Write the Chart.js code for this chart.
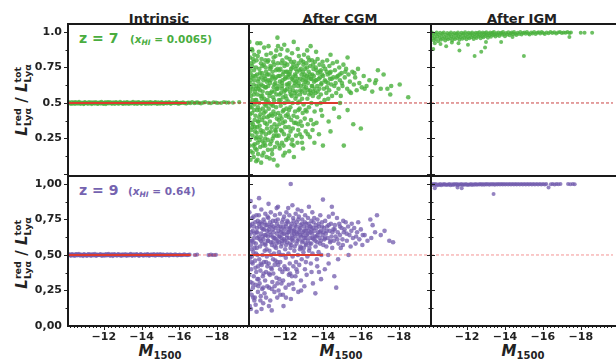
<!DOCTYPE html>
<html><head><meta charset="utf-8">
<script src="https://cdn.jsdelivr.net/npm/chart.js@4.4.1/dist/chart.umd.min.js"></script>
<style>
html,body{margin:0;padding:0;background:#fff}
body{width:616px;height:362px;position:relative;overflow:hidden;font-family:"DejaVu Sans",sans-serif;color:#222}
.cv{position:absolute}
.txt{position:absolute;white-space:nowrap;line-height:1;font-weight:bold}
.title{font-size:13px;transform:translateX(-50%)}
.z{font-size:14px}
.xhi{font-size:10.5px}
.xhi sub{font-size:7.5px;vertical-align:-2px;font-style:italic}
.ylab{font-size:15px;transform:translate(-50%,-50%) rotate(-90deg)}
.ss{display:inline-block;vertical-align:middle;font-size:9.5px;line-height:9.5px;text-align:left;font-style:normal}
.ss span{display:block}
.xlab{font-size:15px;transform:translateX(-50%)}
.xlab sub{font-size:10px;font-style:normal;vertical-align:-3px}
</style></head>
<body>
<div class="txt title" style="left:159px;top:12px">Intrinsic</div>
<div class="txt title" style="left:340px;top:12px">After CGM</div>
<div class="txt title" style="left:522px;top:12px">After IGM</div>
<div class="txt z" style="left:79px;top:31px;color:#4aad3f">z = 7</div>
<div class="txt xhi" style="left:130px;top:34px;color:#4aad3f">(<i>x</i><sub>HI</sub> = 0.0065)</div>
<div class="txt z" style="left:79px;top:183px;color:#7563b0">z = 9</div>
<div class="txt xhi" style="left:128px;top:186px;color:#7563b0">(<i>x</i><sub>HI</sub> = 0.64)</div>
<div class="txt ylab" style="left:22px;top:100px"><i>L</i><span class="ss"><span>red</span><span>Lyα</span></span> / <i>L</i><span class="ss"><span>tot</span><span>Lyα</span></span></div>
<div class="txt ylab" style="left:22px;top:253px"><i>L</i><span class="ss"><span>red</span><span>Lyα</span></span> / <i>L</i><span class="ss"><span>tot</span><span>Lyα</span></span></div>
<div class="txt xlab" style="left:160px;top:344px"><i>M</i><sub>1500</sub></div>
<div class="txt xlab" style="left:341px;top:344px"><i>M</i><sub>1500</sub></div>
<div class="txt xlab" style="left:523px;top:344px"><i>M</i><sub>1500</sub></div>
<script>
// ---------- axes ----------
const X_MIN = -19.7, X_MAX = -10.1;
const xTickVals = [-12, -14, -16, -18];
const xTickLabels = ['\u221212', '\u221214', '\u221216', '\u221218'];
const yTickValsTop = [0.25, 0.5, 0.75, 1.0];
const yTickLabelsTop = ['0.25', '0.5', '0.75', '1.0'];
const yTickValsBot = [0, 0.25, 0.5, 0.75, 1.0];
const yTickLabelsBot = ['0,00', '0,25', '0,50', '0,75', '1,00'];
const refLevel = 0.5;

// ---------- data: [M1500, L_red/L_tot] ----------
const z7_intrinsic = [[-10.11,0.497],[-10.17,0.505],[-10.26,0.493],[-10.31,0.507],[-10.4,0.501],[-10.47,0.493],[-10.52,0.506],[-10.63,0.495],[-10.69,0.508],[-10.78,0.494],[-10.84,0.503],[-10.93,0.492],[-10.99,0.507],[-11.06,0.498],[-11.15,0.494],[-11.21,0.507],[-11.3,0.5],[-11.36,0.492],[-11.45,0.505],[-11.52,0.495],[-11.58,0.507],[-11.67,0.493],[-11.74,0.503],[-11.83,0.496],[-11.88,0.508],[-11.97,0.493],[-12.05,0.502],[-12.11,0.492],[-12.2,0.506],[-12.27,0.497],[-12.33,0.507],[-12.42,0.494],[-12.49,0.504],[-12.58,0.493],[-12.64,0.507],[-12.71,0.499],[-12.8,0.495],[-12.86,0.508],[-12.95,0.501],[-13.02,0.493],[-13.08,0.505],[-13.17,0.495],[-13.24,0.507],[-13.33,0.493],[-13.39,0.503],[-13.46,0.497],[-13.55,0.508],[-13.61,0.494],[-13.7,0.504],[-13.77,0.493],[-13.83,0.506],[-13.92,0.498],[-13.99,0.494],[-14.08,0.507],[-14.14,0.5],[-14.21,0.493],[-14.3,0.505],[-14.36,0.495],[-14.45,0.507],[-14.52,0.494],[-14.58,0.503],[-14.67,0.497],[-14.74,0.507],[-14.83,0.493],[-14.89,0.504],[-14.98,0.495],[-15.07,0.506],[-15.16,0.494],[-15.27,0.502],[-15.35,0.497],[-15.46,0.506],[-15.55,0.494],[-15.67,0.503],[-15.74,0.498],[-15.86,0.506],[-15.95,0.495],[-16.07,0.501],[-16.2,0.505],[-16.37,0.496],[-16.51,0.503],[-16.68,0.507],[-16.8,0.499],[-16.97,0.504],[-17.15,0.497],[-17.38,0.506],[-17.55,0.501],[-17.82,0.505],[-18.05,0.5],[-18.37,0.507],[-18.62,0.503],[-19.18,0.506],
[-10.14,0.502],[-10.22,0.498],[-10.35,0.496],[-10.44,0.504],[-10.57,0.499],[-10.66,0.502],[-10.74,0.497],[-10.88,0.5],[-10.96,0.496],[-11.02,0.503],[-11.11,0.501],[-11.25,0.497],[-11.33,0.504],[-11.41,0.498],[-11.49,0.501],[-11.62,0.5],[-11.7,0.497],[-11.79,0.502],[-11.92,0.5],[-12.01,0.497],[-12.08,0.504],[-12.16,0.499],[-12.24,0.502],[-12.37,0.5],[-12.45,0.498],[-12.54,0.501],[-12.68,0.503],[-12.76,0.497],[-12.9,0.5],[-12.99,0.497],[-13.05,0.501],[-13.13,0.499],[-13.21,0.502],[-13.29,0.498],[-13.43,0.5],[-13.51,0.503],[-13.65,0.498],[-13.74,0.5],[-13.88,0.503],[-13.96,0.501],[-14.03,0.498],[-14.18,0.503],[-14.26,0.5],[-14.41,0.499],[-14.49,0.502],[-14.62,0.5],[-14.7,0.502],[-14.79,0.499],[-14.94,0.5],[-15.03,0.498],[-15.12,0.5],[-15.22,0.499],[-15.31,0.503],[-15.41,0.5],[-15.51,0.501],[-15.61,0.498],[-15.8,0.501],[-15.9,0.499],[-16.01,0.497],[-16.14,0.5],[-16.28,0.499],[-16.44,0.501],[-16.6,0.498],[-16.89,0.502],[-17.05,0.5],[-17.27,0.502],[-17.68,0.498],[-17.95,0.503],[-18.22,0.5],[-18.5,0.503],[-18.85,0.502]];
const z7_intrinsic_red = [[-10.1,0.5],[-16.4,0.5]];

const z7_cgm = [[-10.12,0.93],[-10.15,0.82],[-10.18,0.71],[-10.13,0.64],[-10.2,0.55],[-10.16,0.47],[-10.11,0.39],[-10.22,0.31],[-10.14,0.24],[-10.19,0.16],[-10.25,0.88],[-10.27,0.76],[-10.24,0.68],[-10.3,0.6],[-10.28,0.52],[-10.26,0.43],[-10.31,0.35],[-10.29,0.27],[-10.33,0.2],[-10.35,0.12],[-10.38,0.84],[-10.36,0.73],[-10.4,0.66],[-10.42,0.58],[-10.39,0.49],[-10.44,0.41],[-10.41,0.33],[-10.46,0.25],[-10.43,0.18],[-10.48,0.09],[-10.5,0.8],[-10.52,0.7],[-10.49,0.62],[-10.55,0.56],[-10.53,0.45],[-10.57,0.37],[-10.51,0.29],[-10.56,0.22],[-10.58,0.14],[-10.54,0.92],[-10.21,0.78],[-10.34,0.63],[-10.47,0.75],[-10.17,0.58],[-10.37,0.45],[-10.45,0.52],[-10.23,0.36],[-10.32,0.69],[-10.59,0.65],[-10.12,0.28],[-10.4,0.21],[-10.28,0.87],[-10.53,0.33],[-10.2,0.66],[-10.46,0.6],[-10.35,0.79],[-10.15,0.42],[-10.57,0.47],[-10.25,0.5],[-10.5,0.17],
[-10.62,0.86],[-10.65,0.74],[-10.61,0.67],[-10.68,0.59],[-10.64,0.5],[-10.7,0.42],[-10.66,0.34],[-10.72,0.26],[-10.69,0.19],[-10.74,0.08],[-10.76,0.81],[-10.78,0.71],[-10.75,0.63],[-10.8,0.55],[-10.83,0.46],[-10.79,0.38],[-10.85,0.3],[-10.81,0.23],[-10.87,0.15],[-10.9,0.89],[-10.88,0.77],[-10.92,0.69],[-10.95,0.61],[-10.91,0.53],[-10.97,0.44],[-10.94,0.36],[-10.99,0.28],[-10.96,0.2],[-11.02,0.84],[-11.0,0.72],[-11.04,0.65],[-11.06,0.57],[-11.01,0.48],[-11.08,0.4],[-11.05,0.32],[-11.09,0.24],[-11.03,0.12],[-10.63,0.62],[-10.73,0.78],[-10.86,0.66],[-10.98,0.75],[-10.67,0.45],[-10.82,0.58],[-10.93,0.49],[-11.07,0.7],[-10.71,0.31],[-10.84,0.2],[-10.77,0.53],[-10.89,0.4],[-11.0,0.61],[-10.6,0.37],[-10.75,0.68],[-10.96,0.8],[-11.08,0.52],[-10.7,0.92],
[-11.12,0.8],[-11.15,0.7],[-11.11,0.62],[-11.18,0.55],[-11.14,0.46],[-11.2,0.37],[-11.16,0.29],[-11.22,0.21],[-11.19,0.11],[-11.25,0.85],[-11.27,0.75],[-11.24,0.66],[-11.3,0.58],[-11.28,0.49],[-11.33,0.41],[-11.29,0.33],[-11.35,0.25],[-11.31,0.17],[-11.38,0.79],[-11.36,0.69],[-11.4,0.61],[-11.42,0.52],[-11.39,0.44],[-11.45,0.35],[-11.41,0.27],[-11.47,0.19],[-11.5,0.83],[-11.52,0.73],[-11.49,0.64],[-11.55,0.56],[-11.53,0.47],[-11.57,0.39],[-11.51,0.3],[-11.58,0.22],[-11.6,0.06],[-11.6,0.96],[-11.13,0.9],[-11.21,0.64],[-11.34,0.72],[-11.46,0.67],[-11.26,0.42],[-11.37,0.54],[-11.56,0.6],[-11.17,0.5],[-11.43,0.77],[-11.32,0.14],[-11.48,0.31],[-11.23,0.76],[-11.54,0.87],[-11.44,0.58],
[-11.62,0.78],[-11.65,0.69],[-11.61,0.6],[-11.68,0.52],[-11.64,0.43],[-11.7,0.35],[-11.66,0.27],[-11.72,0.18],[-11.74,0.84],[-11.76,0.74],[-11.73,0.65],[-11.79,0.57],[-11.77,0.48],[-11.82,0.39],[-11.78,0.31],[-11.84,0.22],[-11.86,0.8],[-11.88,0.7],[-11.85,0.62],[-11.9,0.54],[-11.93,0.45],[-11.89,0.36],[-11.95,0.28],[-11.91,0.13],[-11.97,0.76],[-11.99,0.67],[-12.02,0.59],[-11.98,0.5],[-12.04,0.41],[-12.01,0.33],[-12.06,0.24],[-12.08,0.82],[-12.05,0.72],[-12.09,0.63],[-12.03,0.55],[-11.63,0.9],[-11.81,0.88],[-11.96,0.91],[-11.71,0.56],[-11.87,0.66],[-12.07,0.46],[-11.69,0.73],[-11.83,0.6],[-12.0,0.78],[-11.75,0.41],[-11.92,0.2],
[-12.12,0.77],[-12.15,0.68],[-12.11,0.6],[-12.18,0.51],[-12.14,0.42],[-12.2,0.33],[-12.16,0.25],[-12.22,0.16],[-12.24,0.81],[-12.27,0.72],[-12.23,0.64],[-12.3,0.56],[-12.28,0.47],[-12.33,0.38],[-12.29,0.3],[-12.35,0.21],[-12.37,0.85],[-12.39,0.75],[-12.36,0.67],[-12.42,0.59],[-12.4,0.5],[-12.45,0.41],[-12.41,0.32],[-12.47,0.12],[-12.49,0.79],[-12.52,0.7],[-12.48,0.62],[-12.55,0.53],[-12.53,0.44],[-12.57,0.36],[-12.58,0.27],[-12.13,0.87],[-12.26,0.58],[-12.44,0.66],[-12.56,0.74],[-12.19,0.7],[-12.32,0.79],[-12.5,0.57],[-12.21,0.45],[-12.38,0.24],[-12.59,0.65],[-12.46,0.93],
[-12.62,0.76],[-12.65,0.67],[-12.61,0.58],[-12.68,0.5],[-12.64,0.4],[-12.7,0.31],[-12.66,0.22],[-12.73,0.83],[-12.76,0.73],[-12.72,0.64],[-12.79,0.56],[-12.77,0.46],[-12.82,0.37],[-12.78,0.28],[-12.85,0.8],[-12.87,0.7],[-12.84,0.62],[-12.9,0.53],[-12.93,0.43],[-12.89,0.34],[-12.95,0.18],[-12.97,0.77],[-12.99,0.68],[-13.02,0.6],[-12.98,0.49],[-13.04,0.39],[-13.06,0.74],[-13.08,0.65],[-13.05,0.57],[-12.67,0.88],[-12.81,0.59],[-12.94,0.72],[-13.0,0.84],[-12.71,0.45],[-12.88,0.26],[-13.09,0.3],
[-13.12,0.78],[-13.15,0.69],[-13.11,0.61],[-13.18,0.53],[-13.14,0.44],[-13.2,0.35],[-13.22,0.82],[-13.25,0.72],[-13.21,0.64],[-13.28,0.56],[-13.26,0.47],[-13.31,0.26],[-13.33,0.76],[-13.36,0.67],[-13.32,0.59],[-13.39,0.5],[-13.37,0.38],[-13.42,0.8],[-13.44,0.7],[-13.41,0.62],[-13.47,0.55],[-13.45,0.31],[-13.5,0.74],[-13.53,0.65],[-13.49,0.58],[-13.56,0.44],[-13.58,0.79],[-13.17,0.87],[-13.35,0.9],[-13.55,0.22],
[-13.62,0.75],[-13.65,0.66],[-13.61,0.57],[-13.68,0.49],[-13.66,0.36],[-13.72,0.81],[-13.74,0.71],[-13.7,0.62],[-13.77,0.54],[-13.79,0.28],[-13.82,0.77],[-13.85,0.68],[-13.81,0.6],[-13.88,0.5],[-13.9,0.73],[-13.93,0.64],[-13.89,0.56],[-13.96,0.41],[-13.98,0.79],[-14.01,0.69],[-14.0,0.2],[-14.05,0.6],[-14.08,0.52],[-13.64,0.86],
[-14.12,0.74],[-14.15,0.65],[-14.18,0.57],[-14.22,0.8],[-14.25,0.7],[-14.21,0.61],[-14.28,0.53],[-14.3,0.37],[-14.34,0.76],[-14.37,0.67],[-14.33,0.59],[-14.41,0.72],[-14.44,0.63],[-14.48,0.55],[-14.52,0.78],[-14.55,0.68],[-14.58,0.46],[-14.4,0.84],
[-14.63,0.73],[-14.67,0.64],[-14.7,0.57],[-14.74,0.79],[-14.78,0.69],[-14.82,0.6],[-14.86,0.75],[-14.9,0.66],[-14.94,0.55],[-14.98,0.71],[-15.03,0.62],[-15.08,0.77],[-14.85,0.4],[-15.1,0.2],
[-15.15,0.68],[-15.22,0.74],[-15.28,0.6],[-15.35,0.7],[-15.42,0.65],[-15.48,0.57],[-15.55,0.72],[-15.6,0.35],[-15.63,0.63],[-15.7,0.68],[-15.78,0.59],[-15.85,0.74],[-15.92,0.64],[-16.0,0.32],[-16.05,0.61],[-15.3,0.82],
[-16.15,0.69],[-16.3,0.62],[-16.45,0.66],[-16.6,0.58],[-16.75,0.64],[-16.9,0.73],[-17.05,0.6],[-17.2,0.7],[-17.4,0.6],[-17.55,0.56],[-18.05,0.63],[-18.5,0.54],
[-10.14,0.74],[-10.19,0.61],[-10.23,0.47],[-10.27,0.33],[-10.31,0.81],[-10.36,0.56],[-10.4,0.38],[-10.44,0.69],[-10.48,0.52],[-10.52,0.26],[-10.56,0.83],[-10.6,0.6],[-10.64,0.4],[-10.68,0.71],[-10.72,0.55],[-10.76,0.29],[-10.8,0.76],[-10.84,0.62],[-10.88,0.43],[-10.92,0.22],[-10.96,0.67],[-11.0,0.51],[-11.04,0.35],[-11.08,0.79],[-11.12,0.66],[-11.16,0.41],[-11.2,0.74],[-11.24,0.57],[-11.28,0.23],[-11.32,0.68],[-11.36,0.48],[-11.4,0.82],[-11.44,0.63],[-11.48,0.42],[-11.52,0.68],[-11.56,0.33],[-11.6,0.74],[-11.64,0.62],[-11.68,0.38],[-11.72,0.69],[-11.76,0.52],[-11.8,0.78],[-11.84,0.64],[-11.88,0.44],[-11.92,0.72],[-11.96,0.58],[-12.0,0.37],[-12.04,0.68],[-12.08,0.53],[-12.12,0.72],[-12.16,0.63],[-12.2,0.4],[-12.24,0.7],[-12.28,0.61],[-12.32,0.74],[-12.36,0.55],[-12.4,0.68],[-12.44,0.77],[-12.48,0.36],[-12.52,0.64],[-12.56,0.69],[-12.6,0.55],[-12.64,0.72],[-12.68,0.62],[-12.72,0.78],[-12.76,0.51],[-12.8,0.67],[-12.84,0.74],[-12.88,0.58],[-12.92,0.66],[-12.96,0.79],[-13.0,0.63],[-13.04,0.7],[-13.08,0.45],[-13.12,0.66],[-13.16,0.75],[-13.2,0.59],[-13.24,0.68],[-13.28,0.8],[-13.32,0.7],[-13.36,0.57],[-13.4,0.67],[-13.44,0.62],[-13.48,0.77],[-13.52,0.69],[-13.56,0.6],[-13.6,0.66],[-13.66,0.73],[-13.72,0.58],[-13.78,0.67],[-13.84,0.72],[-13.9,0.63],[-13.96,0.7],[-14.02,0.76],[-14.1,0.66],[-14.2,0.72],[-14.27,0.64],[-14.36,0.71],[-14.46,0.67],[-14.6,0.62],[-14.72,0.68],[-14.88,0.7],[-15.0,0.64],[-15.18,0.72],[-15.4,0.58],[-15.66,0.71],[-16.2,0.6],[-16.8,0.66],[-17.6,0.62],
[-10.13,0.2],[-10.18,0.1],[-10.3,0.15],[-10.42,0.3],[-10.55,0.1],[-10.65,0.24],[-10.8,0.13],[-10.95,0.25],[-11.1,0.17],[-11.25,0.3],[-11.4,0.1],[-11.55,0.27],[-11.7,0.2],[-11.85,0.3],[-12.0,0.15],[-12.2,0.27],[-12.45,0.2],[-12.7,0.35],[-12.9,0.22],[-13.2,0.28],[-13.5,0.35],[-13.9,0.45],[-14.4,0.3],[-14.9,0.5],[-15.3,0.45]];
const z7_cgm_red = [[-10.1,0.5],[-14.8,0.5]];

const z7_igm = [[-10.12,0.998],[-10.15,0.975],[-10.18,0.955],[-10.22,0.99],[-10.25,0.94],[-10.29,0.965],[-10.33,0.985],[-10.36,0.95],[-10.4,0.997],[-10.44,0.97],[-10.47,0.935],[-10.51,0.982],[-10.55,0.958],[-10.58,0.994],[-10.62,0.945],[-10.66,0.972],[-10.7,0.988],[-10.73,0.952],[-10.77,0.996],[-10.81,0.965],[-10.85,0.94],[-10.88,0.98],[-10.92,0.957],[-10.96,0.992],[-11.0,0.948],[-11.03,0.975],[-11.07,0.986],[-11.11,0.955],[-11.15,0.997],[-11.18,0.968],[-11.22,0.942],[-11.26,0.983],[-11.3,0.96],[-11.33,0.993],[-11.37,0.95],[-11.41,0.976],[-11.45,0.988],[-11.48,0.958],[-11.52,0.996],[-11.56,0.97],[-11.6,0.945],[-11.63,0.984],[-11.67,0.962],[-11.71,0.994],[-11.75,0.952],[-11.78,0.978],[-11.82,0.99],[-11.86,0.96],[-11.9,0.998],[-11.93,0.972],[-11.97,0.948],[-12.01,0.985],[-12.05,0.964],[-12.08,0.995],[-12.12,0.955],[-12.16,0.98],[-12.2,0.99],[-12.23,0.962],[-12.27,0.997],[-12.31,0.974],[-12.35,0.95],[-12.38,0.986],[-12.42,0.966],[-12.46,0.995],[-12.5,0.958],[-12.53,0.981],[-12.57,0.992],[-12.61,0.968],[-12.65,0.998],[-12.68,0.976],[-12.72,0.955],[-12.76,0.988],[-12.8,0.97],[-12.83,0.996],[-12.87,0.962],[-12.91,0.983],[-12.95,0.993],[-12.98,0.972],[-13.02,0.998],[-13.06,0.978],[-13.1,0.96],[-13.14,0.989],[-13.18,0.975],[-13.22,0.997],[-13.26,0.966],[-13.3,0.985],[-13.34,0.994],[-13.38,0.977],[-13.42,0.999],[-13.46,0.982],[-13.5,0.968],[-13.55,0.991],[-13.6,0.979],[-13.65,0.997],[-13.7,0.972],[-13.75,0.988],[-13.8,0.995],[-13.85,0.98],[-13.9,0.999],[-13.95,0.985],[-14.0,0.97],[-14.06,0.993],[-14.12,0.982],[-14.18,0.998],[-14.24,0.976],[-14.3,0.99],[-14.36,0.996],[-14.42,0.984],[-14.48,0.999],[-14.54,0.988],[-14.6,0.978],[-14.67,0.995],[-14.74,0.986],[-14.81,0.999],[-14.88,0.982],[-14.95,0.993],[-15.02,0.997],[-15.09,0.988],[-15.16,0.999],[-15.23,0.99],[-15.3,0.982],[-15.38,0.996],[-15.46,0.989],[-15.54,0.999],[-15.62,0.985],[-15.7,0.994],[-15.78,0.998],[-15.86,0.99],[-15.94,0.999],[-16.02,0.992],[-16.1,0.986],[-16.2,0.997],[-16.3,0.991],[-16.4,0.999],[-16.5,0.993],[-16.6,0.998],[-16.7,0.99],[-16.8,0.996],[-16.9,0.999],[-17.0,0.992],[-17.1,0.997],[-17.2,0.994],[-17.3,0.999],[-17.4,0.993],[-17.48,0.997],
[-17.4,0.965],[-10.22,0.88],[-11.6,0.87],[-12.4,0.83],[-12.75,0.86],[-12.95,0.89],[-15.0,0.83],[-12.05,0.91],[-11.55,0.92],[-10.3,0.92],[-10.9,0.9],[-13.0,0.93],[-13.8,0.93],[-14.4,0.965],[-18.0,0.995],[-18.2,0.995],[-18.6,0.995],[-11.2,0.925],[-10.6,0.915]];

const z9_intrinsic = [[-10.12,0.498],[-10.19,0.505],[-10.25,0.494],[-10.33,0.507],[-10.39,0.5],[-10.46,0.493],[-10.54,0.506],[-10.6,0.497],[-10.68,0.508],[-10.75,0.495],[-10.81,0.503],[-10.9,0.492],[-10.96,0.506],[-11.03,0.499],[-11.11,0.494],[-11.18,0.507],[-11.24,0.501],[-11.32,0.493],[-11.39,0.505],[-11.47,0.497],[-11.53,0.508],[-11.61,0.494],[-11.68,0.503],[-11.75,0.498],[-11.83,0.507],[-11.9,0.493],[-11.97,0.502],[-12.04,0.495],[-12.12,0.506],[-12.19,0.499],[-12.26,0.508],[-12.33,0.494],[-12.41,0.504],[-12.48,0.492],[-12.55,0.507],[-12.62,0.5],[-12.7,0.495],[-12.77,0.506],[-12.84,0.498],[-12.92,0.493],[-12.99,0.505],[-13.06,0.497],[-13.14,0.507],[-13.21,0.494],[-13.28,0.503],[-13.36,0.499],[-13.43,0.508],[-13.5,0.494],[-13.58,0.504],[-13.65,0.496],[-13.73,0.506],[-13.8,0.499],[-13.88,0.494],[-13.95,0.507],[-14.03,0.501],[-14.1,0.495],[-14.18,0.505],[-14.26,0.497],[-14.33,0.507],[-14.41,0.494],[-14.49,0.503],[-14.57,0.499],[-14.65,0.506],[-14.73,0.495],[-14.82,0.504],[-14.9,0.498],[-14.99,0.506],[-15.08,0.495],[-15.17,0.502],[-15.27,0.498],[-15.36,0.505],[-15.46,0.496],[-15.57,0.503],[-15.67,0.499],[-15.78,0.505],[-15.9,0.497],[-16.02,0.502],[-16.14,0.498],[-16.27,0.504],[-16.42,0.499],[-16.55,0.502],[-16.82,0.5],[-16.95,0.503],[-17.55,0.499],[-17.68,0.502],[-17.82,0.5],[-17.95,0.501],
[-10.15,0.502],[-10.22,0.499],[-10.29,0.503],[-10.36,0.497],[-10.43,0.501],[-10.5,0.504],[-10.57,0.5],[-10.64,0.502],[-10.72,0.499],[-10.78,0.501],[-10.86,0.498],[-10.93,0.503],[-11.0,0.5],[-11.07,0.497],[-11.14,0.502],[-11.21,0.498],[-11.28,0.504],[-11.35,0.499],[-11.43,0.502],[-11.5,0.5],[-11.57,0.497],[-11.65,0.501],[-11.72,0.5],[-11.79,0.503],[-11.86,0.498],[-11.94,0.501],[-12.01,0.499],[-12.08,0.502],[-12.15,0.497],[-12.22,0.503],[-12.3,0.5],[-12.37,0.499],[-12.44,0.502],[-12.52,0.499],[-12.59,0.503],[-12.66,0.498],[-12.73,0.502],[-12.81,0.5],[-12.88,0.503],[-12.96,0.499],[-13.03,0.501],[-13.1,0.5],[-13.18,0.498],[-13.25,0.501],[-13.32,0.497],[-13.4,0.503],[-13.47,0.5],[-13.54,0.498],[-13.62,0.501],[-13.69,0.5],[-13.77,0.502],[-13.84,0.497],[-13.92,0.5],[-13.99,0.503],[-14.07,0.498],[-14.14,0.501],[-14.22,0.5],[-14.3,0.502],[-14.37,0.499],[-14.45,0.5],[-14.53,0.502],[-14.61,0.498],[-14.69,0.501],[-14.78,0.5],[-14.86,0.502],[-14.95,0.499],[-15.03,0.5],[-15.12,0.502],[-15.22,0.5],[-15.31,0.498],[-15.41,0.5],[-15.51,0.502],[-15.62,0.5],[-15.72,0.498],[-15.84,0.501],[-15.96,0.5],[-16.08,0.499],[-16.2,0.501],[-16.34,0.5],[-16.48,0.501]];
const z9_intrinsic_red = [[-10.1,0.5],[-16.6,0.5]];
const z9_intrinsic_red_pts = [[-16.88,0.5],[-17.6,0.5],[-17.75,0.5],[-17.9,0.5]];

const z9_cgm = [[-10.12,0.8],[-10.16,0.71],[-10.13,0.64],[-10.2,0.57],[-10.15,0.48],[-10.22,0.4],[-10.18,0.31],[-10.24,0.22],[-10.14,0.14],[-10.27,0.76],[-10.3,0.67],[-10.26,0.6],[-10.33,0.52],[-10.29,0.44],[-10.35,0.35],[-10.31,0.27],[-10.38,0.18],[-10.4,0.84],[-10.43,0.73],[-10.39,0.65],[-10.46,0.58],[-10.42,0.46],[-10.48,0.38],[-10.45,0.29],[-10.5,0.1],[-10.52,0.69],[-10.55,0.62],[-10.51,0.55],[-10.58,0.42],[-10.54,0.33],[-10.57,0.24],[-10.21,0.66],[-10.36,0.7],[-10.49,0.78],[-10.19,0.88],[-10.34,0.59],[-10.47,0.51],[-10.25,0.49],[-10.56,0.74],[-10.11,0.36],[-10.41,0.2],[-10.28,0.72],[-10.53,0.66],[-10.37,0.62],[-10.23,0.54],
[-10.62,0.78],[-10.65,0.7],[-10.61,0.63],[-10.68,0.56],[-10.64,0.47],[-10.7,0.39],[-10.66,0.3],[-10.72,0.21],[-10.75,0.82],[-10.78,0.72],[-10.74,0.65],[-10.8,0.58],[-10.77,0.43],[-10.83,0.35],[-10.79,0.26],[-10.85,0.16],[-10.87,0.75],[-10.9,0.68],[-10.86,0.61],[-10.93,0.53],[-10.89,0.45],[-10.95,0.32],[-10.92,0.23],[-10.98,0.71],[-11.01,0.64],[-10.97,0.57],[-11.04,0.49],[-11.0,0.38],[-11.06,0.28],[-11.08,0.77],[-11.05,0.67],[-11.09,0.6],[-10.63,0.9],[-10.73,0.6],[-10.84,0.68],[-10.96,0.79],[-11.03,0.54],[-10.69,0.73],[-10.81,0.5],[-10.94,0.64],[-11.07,0.42],[-10.76,0.12],
[-11.12,0.76],[-11.15,0.68],[-11.11,0.6],[-11.18,0.53],[-11.14,0.44],[-11.2,0.36],[-11.16,0.27],[-11.22,0.18],[-11.25,0.8],[-11.28,0.71],[-11.24,0.64],[-11.31,0.57],[-11.27,0.41],[-11.33,0.31],[-11.3,0.11],[-11.36,0.74],[-11.39,0.66],[-11.35,0.59],[-11.42,0.51],[-11.38,0.37],[-11.44,0.24],[-11.47,0.78],[-11.5,0.69],[-11.46,0.62],[-11.53,0.55],[-11.49,0.46],[-11.55,0.34],[-11.58,0.72],[-11.57,0.65],[-11.59,0.2],[-11.13,0.86],[-11.26,0.5],[-11.41,0.7],[-11.52,0.61],[-11.19,0.66],[-11.34,0.63],[-11.45,0.56],[-11.56,0.83],[-11.21,0.73],[-11.37,0.47],
[-11.62,0.75],[-11.65,0.67],[-11.61,0.6],[-11.68,0.52],[-11.64,0.43],[-11.7,0.33],[-11.66,0.25],[-11.73,0.79],[-11.76,0.7],[-11.72,0.63],[-11.79,0.56],[-11.75,0.45],[-11.81,0.3],[-11.84,0.73],[-11.87,0.65],[-11.83,0.58],[-11.9,0.5],[-11.86,0.38],[-11.92,0.14],[-11.95,0.77],[-11.98,0.68],[-11.94,0.61],[-12.01,0.54],[-11.97,0.42],[-12.03,0.27],[-12.06,0.72],[-12.09,0.64],[-12.05,0.57],[-11.63,0.84],[-11.78,0.66],[-11.91,0.7],[-12.07,0.8],[-11.69,0.59],[-11.82,0.62],[-11.99,0.6],[-11.74,0.4],[-11.89,0.22],[-12.04,0.48],
[-12.12,0.74],[-12.15,0.66],[-12.11,0.59],[-12.18,0.51],[-12.14,0.4],[-12.2,0.29],[-12.23,0.78],[-12.26,0.69],[-12.22,0.62],[-12.29,0.55],[-12.25,0.44],[-12.31,0.19],[-12.34,0.72],[-12.37,0.64],[-12.33,0.57],[-12.4,0.49],[-12.36,0.35],[-12.43,0.76],[-12.46,0.67],[-12.42,0.6],[-12.49,0.53],[-12.45,0.26],[-12.52,0.71],[-12.55,0.63],[-12.51,0.56],[-12.58,0.45],[-12.3,1.0],[-12.17,0.83],[-12.39,0.85],[-12.56,0.79],[-12.21,0.68],[-12.35,0.61],[-12.48,0.65],[-12.27,0.37],[-12.44,0.42],[-12.59,0.66],
[-12.62,0.73],[-12.65,0.65],[-12.61,0.58],[-12.68,0.5],[-12.64,0.38],[-12.7,0.24],[-12.73,0.77],[-12.76,0.68],[-12.72,0.61],[-12.79,0.54],[-12.75,0.43],[-12.82,0.71],[-12.85,0.63],[-12.81,0.56],[-12.88,0.47],[-12.84,0.32],[-12.91,0.75],[-12.94,0.66],[-12.9,0.59],[-12.97,0.52],[-13.0,0.7],[-13.03,0.62],[-12.99,0.55],[-13.06,0.78],[-13.08,0.67],[-13.05,0.4],[-12.67,0.82],[-12.87,0.81],[-13.02,0.28],[-12.78,0.64],[-12.93,0.6],[-13.09,0.58],
[-13.12,0.72],[-13.15,0.64],[-13.11,0.57],[-13.18,0.49],[-13.14,0.36],[-13.21,0.76],[-13.24,0.67],[-13.2,0.6],[-13.27,0.53],[-13.3,0.7],[-13.33,0.62],[-13.29,0.55],[-13.36,0.44],[-13.39,0.74],[-13.42,0.65],[-13.38,0.58],[-13.45,0.51],[-13.48,0.69],[-13.51,0.61],[-13.47,0.3],[-13.54,0.76],[-13.57,0.63],[-13.6,0.23],[-13.26,0.84],[-13.44,0.8],[-13.35,0.66],
[-13.62,0.71],[-13.65,0.63],[-13.61,0.56],[-13.68,0.47],[-13.71,0.75],[-13.74,0.66],[-13.7,0.59],[-13.77,0.52],[-13.8,0.7],[-13.83,0.62],[-13.79,0.38],[-13.86,0.78],[-13.89,0.67],[-13.85,0.58],[-13.92,0.5],[-13.95,0.73],[-13.98,0.64],[-14.0,0.89],[-14.02,0.57],[-14.05,0.69],[-14.08,0.61],[-13.9,0.33],
[-14.12,0.74],[-14.15,0.65],[-14.18,0.56],[-14.22,0.7],[-14.25,0.62],[-14.28,0.5],[-14.31,0.77],[-14.35,0.67],[-14.38,0.59],[-14.42,0.72],[-14.45,0.63],[-14.49,0.55],[-14.52,0.79],[-14.55,0.68],[-14.58,0.6],[-14.3,0.44],[-14.47,0.84],
[-14.63,0.71],[-14.67,0.63],[-14.7,0.27],[-14.74,0.76],[-14.78,0.66],[-14.82,0.58],[-14.86,0.72],[-14.9,0.64],[-14.94,0.55],[-14.98,0.69],[-15.03,0.61],[-15.07,0.74],[-14.8,0.47],[-15.1,0.66],
[-15.14,0.68],[-15.2,0.73],[-15.26,0.6],[-15.33,0.7],[-15.4,0.64],[-15.46,0.56],[-15.52,0.72],[-15.58,0.62],[-15.65,0.69],[-15.72,0.58],[-15.8,0.66],[-15.86,0.73],[-15.92,0.61],[-16.0,0.68],[-15.35,0.5],[-16.08,0.57],
[-16.2,0.64],[-16.35,0.6],[-16.5,0.75],[-16.62,0.71],[-16.75,0.66],[-16.85,0.78],[-17.05,0.64],[-17.25,0.67],[-17.5,0.6],[-17.7,0.59],
[-10.14,0.7],[-10.19,0.6],[-10.24,0.45],[-10.29,0.3],[-10.34,0.77],[-10.39,0.55],[-10.44,0.41],[-10.49,0.66],[-10.54,0.5],[-10.59,0.28],[-10.63,0.72],[-10.67,0.61],[-10.72,0.44],[-10.77,0.69],[-10.82,0.63],[-10.87,0.37],[-10.91,0.73],[-10.96,0.58],[-11.0,0.45],[-11.05,0.71],[-11.1,0.63],[-11.15,0.37],[-11.2,0.7],[-11.25,0.59],[-11.3,0.26],[-11.35,0.68],[-11.4,0.62],[-11.45,0.43],[-11.5,0.74],[-11.55,0.58],[-11.6,0.3],[-11.65,0.7],[-11.7,0.63],[-11.75,0.5],[-11.8,0.68],[-11.85,0.6],[-11.9,0.75],[-11.95,0.65],[-12.0,0.4],[-12.05,0.7],[-12.1,0.62],[-12.15,0.73],[-12.2,0.66],[-12.25,0.58],[-12.3,0.7],[-12.35,0.67],[-12.4,0.62],[-12.45,0.74],[-12.5,0.68],[-12.55,0.35],[-12.6,0.7],[-12.65,0.6],[-12.7,0.75],[-12.75,0.66],[-12.8,0.69],[-12.85,0.55],[-12.9,0.72],[-12.95,0.64],[-13.0,0.67],[-13.05,0.73],[-13.1,0.62],[-13.15,0.69],[-13.2,0.65],[-13.25,0.72],[-13.3,0.58],[-13.35,0.7],[-13.4,0.68],[-13.45,0.62],[-13.5,0.73],[-13.55,0.67],[-13.6,0.6],[-13.66,0.69],[-13.72,0.64],[-13.78,0.72],[-13.84,0.66],[-13.9,0.6],[-13.96,0.7],[-14.03,0.66],[-14.1,0.62],[-14.2,0.67],[-14.3,0.71],[-14.4,0.6],[-14.5,0.66],[-14.62,0.68],[-14.76,0.61],[-14.9,0.7],[-15.05,0.57],[-15.25,0.65],[-15.5,0.67],[-15.75,0.63],[-16.1,0.64],[-16.55,0.62],
[-10.13,0.25],[-10.2,0.12],[-10.32,0.2],[-10.45,0.15],[-10.6,0.33],[-10.7,0.18],[-10.85,0.27],[-11.0,0.2],[-11.15,0.14],[-11.3,0.4],[-11.45,0.28],[-11.6,0.45],[-11.75,0.22],[-11.9,0.32],[-12.05,0.2],[-12.2,0.36],[-12.4,0.3],[-12.6,0.4],[-12.85,0.25],[-13.1,0.45],[-13.4,0.38],[-13.7,0.42],[-14.1,0.4],[-14.6,0.35]];
const z9_cgm_red = [[-10.1,0.5],[-14.0,0.5]];

const z9_igm = [[-10.12,0.998],[-10.18,0.992],[-10.23,1.0],[-10.29,0.994],[-10.35,0.999],[-10.4,0.99],[-10.47,0.997],[-10.53,0.993],[-10.58,1.0],[-10.64,0.991],[-10.71,0.998],[-10.77,0.994],[-10.82,1.0],[-10.89,0.992],[-10.95,0.997],[-11.01,0.995],[-11.07,1.0],[-11.13,0.991],[-11.2,0.998],[-11.26,0.993],[-11.32,1.0],[-11.38,0.995],[-11.45,0.999],[-11.51,0.992],[-11.57,0.998],[-11.63,0.994],[-11.7,1.0],[-11.76,0.993],[-11.82,0.998],[-11.88,0.995],[-11.95,1.0],[-12.01,0.992],[-12.07,0.997],[-12.13,0.994],[-12.2,1.0],[-12.26,0.993],[-12.32,0.998],[-12.39,0.995],[-12.45,1.0],[-12.52,0.994],[-12.58,0.998],[-12.65,0.996],[-12.71,1.0],[-12.78,0.994],[-12.84,0.999],[-12.91,0.995],[-12.98,1.0],[-13.04,0.996],[-13.11,0.999],[-13.18,0.995],[-13.25,1.0],[-13.32,0.996],[-13.39,0.999],[-13.46,0.995],[-13.53,1.0],[-13.6,0.997],[-13.67,0.999],[-13.74,0.996],[-13.81,1.0],[-13.88,0.997],[-13.95,0.999],[-14.02,0.996],[-14.1,1.0],[-14.17,0.997],[-14.25,0.999],[-14.32,0.996],[-14.4,1.0],[-14.47,0.997],[-14.55,0.999],[-14.62,0.996],[-14.7,1.0],[-14.78,0.997],[-14.86,0.999],[-14.94,0.996],[-15.02,1.0],[-15.1,0.997],[-15.18,0.999],[-15.26,0.996],[-15.34,1.0],[-15.42,0.997],[-15.5,0.999],[-15.58,0.996],[-15.67,1.0],[-15.75,0.997],[-15.84,0.999],[-15.92,0.997],[-16.01,1.0],[-16.1,0.997],[-16.18,0.999],[-16.42,0.998],[-16.52,1.0],[-16.62,0.997],[-16.72,0.999],[-16.82,0.998],[-16.93,1.0],[-17.33,0.999],[-17.45,0.998],[-17.58,1.0],[-17.68,0.998],
[-10.3,0.97],[-11.5,0.975],[-11.72,0.97],[-13.4,0.93],[-16.3,0.975]];

// ---------- layout / style ----------
const COLS = [[68,249],[249,431],[431,613]];
const ROWS = [[24,176,-0.014,1.056],[176,326,0,1.056]];
const GREEN = 'rgba(72,176,60,0.8)';
const PURPLE = 'rgba(112,90,172,0.75)';
const RED = '#dc3a2e';
const REF_COL = ['rgba(195,45,45,0.9)','rgba(240,90,90,0.65)'];
const FONT = {family:'DejaVu Sans', size:11, weight:'bold'};

const frameTicks = {
  id:'frameTicks',
  afterDraw(chart, args, o){
    const {ctx, chartArea:a, scales:{x, y}} = chart;
    const ci = o.col, ri = o.row;
    ctx.save();
    ctx.strokeStyle = '#222'; ctx.lineWidth = 1;
    const seg = (x1,y1,x2,y2)=>{ctx.beginPath();ctx.moveTo(x1,y1);ctx.lineTo(x2,y2);ctx.stroke();};
    for (let i=0;i<=8;i++){
      const v = i*0.125;
      const py = Math.round(y.getPixelForValue(v))+0.5;
      if (py < a.top+1 || py > a.bottom-1) continue;
      const len = i%2===0 ? 4 : 2.5;
      if (ci===0) seg(a.left-len,py,a.left,py); else seg(a.left,py,a.left+len,py);
      if (ci===1) seg(a.right-len,py,a.right,py);
    }
    if (ri===1){
      for (let k=0;k<60;k++){
        const m = -10.2 - k*0.2;
        if (m < X_MIN) break;
        const px = Math.round(x.getPixelForValue(m))+0.5;
        const r = Math.round(m);
        const major = Math.abs(m-r)<1e-6 && r%2===0;
        seg(px,a.bottom,px,a.bottom+(major?4:2));
      }
    }
    ctx.lineWidth = 2; ctx.strokeStyle = '#1a1a1a';
    const right = ci===2 ? chart.width : a.right;
    seg(a.left-1,a.top,right,a.top);
    seg(a.left-1,a.bottom,right,a.bottom);
    seg(a.left,a.top,a.left,a.bottom);
    if (ci!==2) seg(a.right,a.top,a.right,a.bottom);
    ctx.restore();
  }
};

const pts = arr => arr.map(([x,y])=>({x,y}));

function makePanel(ci, ri, sets){
  const [x0,x1] = COLS[ci], [y0,y1,ymin,ymax] = ROWS[ri];
  const L = ci===0 ? 68 : 0, pl = ci===0 ? 0 : 3, pr = 3, pt = 3;
  const B = ri===1 ? 36 : 0, pb = ri===1 ? 0 : 3;
  const w = pl+L+(x1-x0)+pr, h = pt+(y1-y0)+B+pb;
  const c = document.createElement('canvas');
  c.width = w; c.height = h; c.className = 'cv';
  c.style.left = (x0-L-pl)+'px'; c.style.top = (y0-pt)+'px';
  c.style.width = w+'px'; c.style.height = h+'px';
  document.body.appendChild(c);
  const yVals = ri ? yTickValsBot : yTickValsTop;
  const yLabs = ri ? yTickLabelsBot : yTickLabelsTop;
  new Chart(c, {
    type:'scatter',
    data:{datasets:sets},
    options:{
      responsive:false, animation:false, devicePixelRatio:1,
      layout:{padding:{left:pl,right:pr,top:pt,bottom:pb}},
      plugins:{legend:{display:false}, tooltip:{enabled:false}, frameTicks:{col:ci,row:ri}},
      scales:{
        x:{type:'linear', reverse:true, min:X_MIN, max:X_MAX,
          afterBuildTicks:s=>{s.ticks = xTickVals.map(v=>({value:v}));},
          afterFit:s=>{s.height = B; s.paddingLeft = 0; s.paddingRight = 0; s.paddingTop = 0; s.paddingBottom = 0;},
          grid:{display:false, drawTicks:false}, border:{display:false},
          ticks:{display:ri===1, autoSkip:false, maxRotation:0, minRotation:0, padding:5, color:'#222', font:FONT,
            callback:(v,i)=>xTickLabels[i]}},
        y:{type:'linear', min:ymin, max:ymax,
          afterBuildTicks:s=>{s.ticks = yVals.map(v=>({value:v}));},
          afterFit:s=>{s.width = L; s.paddingTop = 0; s.paddingBottom = 0; s.paddingLeft = 0; s.paddingRight = 0;},
          grid:{display:false, drawTicks:false}, border:{display:false},
          ticks:{display:ci===0, autoSkip:false, padding:6, color:'#222', font:FONT,
            callback:(v,i)=>yLabs[i]}}
      }
    },
    plugins:[frameTicks]
  });
}

const scat = (arr, col, r) => ({data:pts(arr), backgroundColor:col, borderWidth:0, pointRadius:r, pointHoverRadius:r, showLine:false, order:3});
const ref = ri => ({type:'line', data:[{x:X_MAX,y:refLevel},{x:X_MIN,y:refLevel}], borderColor:REF_COL[ri], borderWidth:1, borderDash:[3,2], pointRadius:0, fill:false, order:1});
const redLine = (arr, wdt) => ({type:'line', data:pts(arr), borderColor:RED, borderWidth:wdt, pointRadius:0, fill:false, order:0});

makePanel(0,0,[scat(z7_intrinsic,GREEN,2.1), redLine(z7_intrinsic_red,2.2), ref(0)]);
makePanel(1,0,[scat(z7_cgm,GREEN,2.3), redLine(z7_cgm_red,1.8), ref(0)]);
makePanel(2,0,[scat(z7_igm,GREEN,2), ref(0)]);
makePanel(0,1,[scat(z9_intrinsic,PURPLE,2.1), redLine(z9_intrinsic_red,2.2), scat(z9_intrinsic_red_pts,RED,1.5), ref(1)]);
makePanel(1,1,[scat(z9_cgm,PURPLE,2.3), redLine(z9_cgm_red,1.8), ref(1)]);
makePanel(2,1,[scat(z9_igm,PURPLE,2), ref(1)]);
</script>
</body></html>
